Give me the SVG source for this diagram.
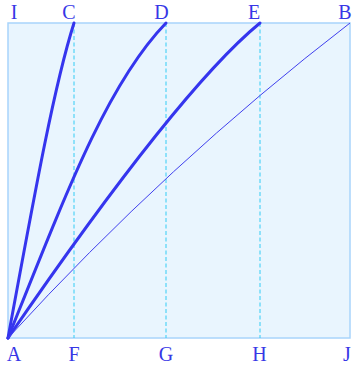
<svg xmlns="http://www.w3.org/2000/svg" width="353" height="367" viewBox="0 0 353 367">
<style>
.lbl{font-family:"Liberation Serif","Times New Roman",serif;font-size:20px;fill:#3737e6;text-anchor:middle}
.guide{stroke:#33ccf5;stroke-width:1;stroke-dasharray:4 2.5;fill:none}
.curve{stroke:#3535ee;stroke-width:3;fill:none;stroke-linecap:round}
.thin{stroke:#4040ee;stroke-width:1;fill:none}
</style>
<g id="frame">
<rect x="8" y="23" width="342" height="315" fill="#e9f5fe" stroke="#a8d4fb" stroke-width="1.5"/>
</g>
<g id="guides">
<line class="guide" x1="74" y1="23" x2="74" y2="338"/>
<line class="guide" x1="166" y1="23" x2="166" y2="338"/>
<line class="guide" x1="260" y1="23" x2="260" y2="338"/>
</g>
<g id="connectors">
<path id="AC" class="curve" d="M8,338 C37,180 55,83 74,23"/>
<path id="AD" class="curve" d="M8,338 C68,188 108,83 166,23"/>
<path id="AE" class="curve" d="M8,338 C111,188 199,73 260,23"/>
<path id="AB" class="thin" d="M8,338 Q168,163 350,23"/>
</g>
<g id="labels">
<text class="lbl" x="14" y="19">I</text>
<text class="lbl" x="69" y="19">C</text>
<text class="lbl" x="161.5" y="19">D</text>
<text class="lbl" x="254" y="19">E</text>
<text class="lbl" x="345" y="19">B</text>
<text class="lbl" x="14" y="361">A</text>
<text class="lbl" x="74" y="361">F</text>
<text class="lbl" x="166" y="361">G</text>
<text class="lbl" x="259.5" y="361">H</text>
<text class="lbl" x="347" y="361">J</text>
</g>
</svg>
